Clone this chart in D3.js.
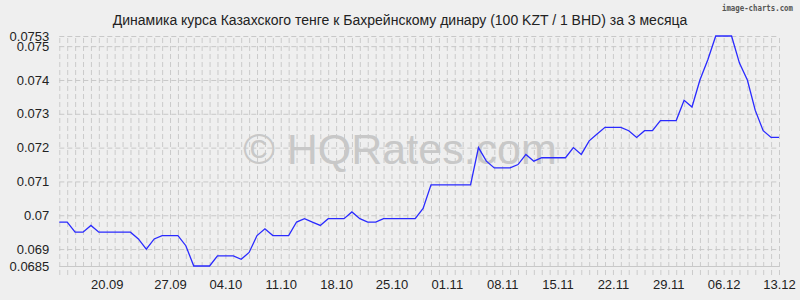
<!DOCTYPE html>
<html>
<head>
<meta charset="utf-8">
<script src="https://cdn.jsdelivr.net/npm/d3@7"></script>
<style>
  body { margin: 0; background: #efefef; }
  svg { display: block; }
  text { font-family: "Liberation Sans", Arial, sans-serif; fill: #222; }
</style>
</head>
<body>
<svg id="chart"></svg>
<script>
const title = 'Динамика курса Казахского тенге к Бахрейнскому динару (100 KZT / 1 BHD) за 3 месяца';

// daily rate, 13.09 .. 13.12
const rates = [
  0.0698, 0.0698, 0.0695, 0.0695, 0.0697, 0.0695, 0.0695, 0.0695, 0.0695, 0.0695,
  0.0693, 0.0690, 0.0693, 0.0694, 0.0694, 0.0694, 0.0691, 0.0685, 0.0685, 0.0685,
  0.0688, 0.0688, 0.0688, 0.0687, 0.0689, 0.0694, 0.0696, 0.0694, 0.0694, 0.0694,
  0.0698, 0.0699, 0.0698, 0.0697, 0.0699, 0.0699, 0.0699, 0.0701, 0.0699, 0.0698,
  0.0698, 0.0699, 0.0699, 0.0699, 0.0699, 0.0699, 0.0702, 0.0709, 0.0709, 0.0709,
  0.0709, 0.0709, 0.0709, 0.0720, 0.0716, 0.0714, 0.0714, 0.0714, 0.0715, 0.0718,
  0.0716, 0.0717, 0.0717, 0.0717, 0.0717, 0.0720, 0.0718, 0.0722, 0.0724, 0.0726,
  0.0726, 0.0726, 0.0725, 0.0723, 0.0725, 0.0725, 0.0728, 0.0728, 0.0728, 0.0734,
  0.0732, 0.0740, 0.0746, 0.0753, 0.0753, 0.0753, 0.0745, 0.0740, 0.0731, 0.0725,
  0.0723, 0.0723
];

const xTickIdx    = [6, 14, 21, 28, 35, 42, 49, 56, 63, 70, 77, 84, 91];
const xTickLabels = ['20.09', '27.09', '04.10', '11.10', '18.10', '25.10', '01.11',
                     '08.11', '15.11', '22.11', '29.11', '06.12', '13.12'];
const yTicks      = [0.0685, 0.069, 0.07, 0.071, 0.072, 0.073, 0.074, 0.075, 0.0753];

const width = 800, height = 300;
const plotL = 59.3, plotR = 779, plotT = 36, plotB = 266;

const svg = d3.select('#chart')
              .attr('width', width)
              .attr('height', height);

svg.append('rect')
	.attr('width', width)
	.attr('height', height)
	.attr('fill', '#efefef');

const x = d3.scaleLinear()
            .domain([0, rates.length - 1])
            .range([plotL, plotR]),
      y = d3.scaleLinear()
            .domain([0.0685, 0.0753])
            .range([plotB, plotT]);

// vertical grid, one line per day
const vgrid = svg.append('g')
	.attr('transform', `translate(0, ${plotB + 9})`)
	.call(d3.axisBottom(x)
		.tickValues(d3.range(rates.length))
		.tickSize(-(plotB + 9 - plotT))
		.tickFormat(''));
vgrid.select('.domain').remove();
vgrid.selectAll('line')
	.attr('stroke', '#cbcbcb')
	.attr('stroke-dasharray', '5,3');

// horizontal grid + y labels
const ygrid = svg.append('g')
	.attr('transform', `translate(${plotL}, 0)`)
	.call(d3.axisLeft(y)
		.tickValues(yTicks)
		.tickSize(-(plotR - plotL))
		.tickPadding(10)
		.tickFormat(d => String(d)));
ygrid.select('.domain').remove();
ygrid.selectAll('line')
	.attr('stroke', '#c8c8c8')
	.attr('stroke-dasharray', d => d === 0.0685 ? null : '5,3');
ygrid.selectAll('text')
	.attr('font-size', '13px')
	.attr('font-family', '"Liberation Sans", Arial, sans-serif')
	.attr('fill', '#222');

// x labels
const xaxis = svg.append('g')
	.attr('transform', `translate(0, ${plotB})`)
	.call(d3.axisBottom(x)
		.tickValues(xTickIdx)
		.tickSize(0)
		.tickPadding(14)
		.tickFormat((d, i) => xTickLabels[i]));
xaxis.select('.domain').remove();
xaxis.selectAll('text')
	.attr('font-size', '13px')
	.attr('font-family', '"Liberation Sans", Arial, sans-serif')
	.attr('fill', '#222');

// watermark
svg.append('text')
	.attr('x', 400)
	.attr('y', 164)
	.attr('text-anchor', 'middle')
	.attr('font-size', '43px')
	.style('fill', '#c8c8c8')
	.text('© HQRates.com');

// rate line
const line = d3.line()
	.x((d, i) => x(i))
	.y(d => y(d));

svg.append('path')
	.datum(rates)
	.attr('fill', 'none')
	.attr('stroke', '#2a2aff')
	.attr('stroke-width', 1.3)
	.attr('d', line);

svg.append('text')
	.attr('x', 400)
	.attr('y', 25)
	.attr('text-anchor', 'middle')
	.attr('font-size', '14px')
	.text(title);

svg.append('text')
	.attr('x', 793)
	.attr('y', 11)
	.attr('text-anchor', 'end')
	.attr('font-size', '9.5px')
	.attr('font-weight', 'bold')
	.attr('textLength', 71)
	.attr('lengthAdjust', 'spacingAndGlyphs')
	.style('font-family', '"DejaVu Sans Mono", monospace')
	.style('fill', '#555')
	.text('image-charts.com');
</script>
</body>
</html>
